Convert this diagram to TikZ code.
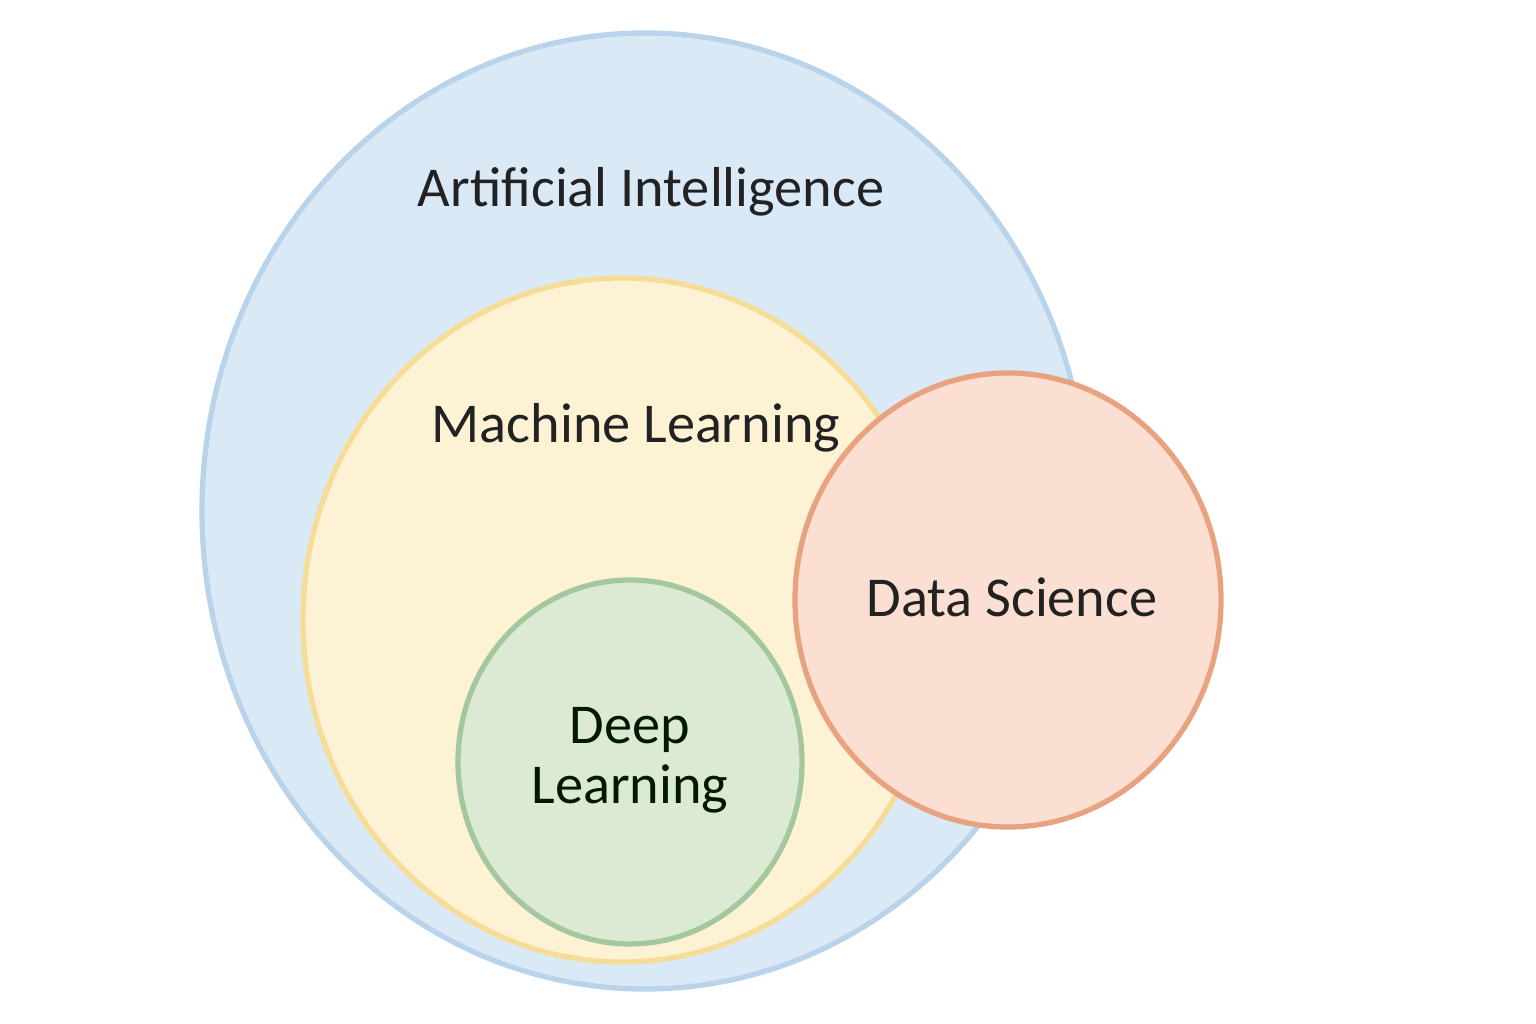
\documentclass[tikz,border=0pt]{standalone}
\usepackage{fontspec}
\setmainfont{Carlito}
\definecolor{bf}{HTML}{DAE9F6}\definecolor{bs}{HTML}{B8D3EA}
\definecolor{yf}{HTML}{FEF2D4}\definecolor{ys}{HTML}{F5DC97}
\definecolor{gf}{HTML}{DCEAD3}\definecolor{gs}{HTML}{A5C79F}
\definecolor{rf}{HTML}{FBDFD3}\definecolor{rs}{HTML}{E8A27F}
\definecolor{tx}{HTML}{222222}
\begin{document}
\begin{tikzpicture}[x=0.01cm,y=-0.01cm,line width=1.5pt,
 lbl/.style={font=\fontsize{16}{19}\selectfont,text=tx,align=center}]
\useasboundingbox (0,0) rectangle (1536,1024);
\path[fill=bf,draw=bs] (645,511) ellipse [x radius=443,y radius=478];
\path[fill=yf,draw=ys] (622,620) ellipse [x radius=319,y radius=342];
\path[fill=gf,draw=gs] (630,762) ellipse [x radius=172,y radius=182];
\path[fill=rf,draw=rs] (1008,600) ellipse [x radius=213,y radius=227];
\node[lbl] (ai) at (651,192) {Artificial Intelligence};
\node[lbl] (ml) at (636,428) {Machine Learning};
\node[lbl,text=black!75!green!40!black] (dl) at (630,760) {Deep\\[-2pt]Learning};
\node[lbl] (ds) at (1012,597) {Data Science};
\end{tikzpicture}
\end{document}
